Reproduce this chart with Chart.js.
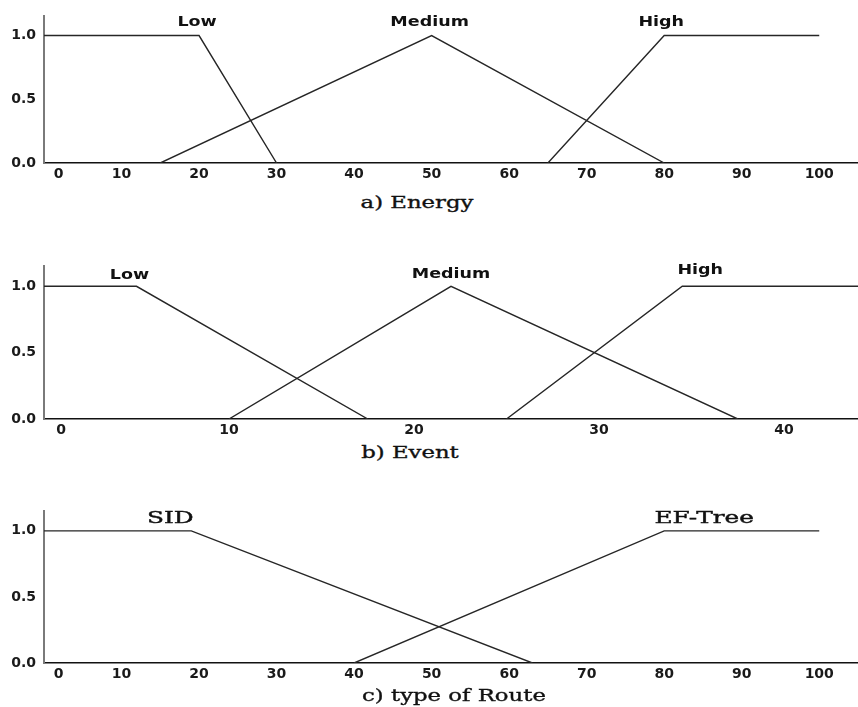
<!DOCTYPE html>
<html>
<head>
<meta charset="utf-8">
<title>Fuzzy membership functions</title>
<script src="https://cdn.jsdelivr.net/npm/chart.js@4/dist/chart.umd.min.js"></script>
<style>
  html, body { margin: 0; padding: 0; background: #fff; }
  body { position: relative; width: 858px; height: 707px; overflow: hidden; }
  canvas { position: absolute; left: 0; }
  .caption {
    position: absolute;
    font-family: "DejaVu Serif", serif;
    font-size: 17px;
    color: #111;
    -webkit-text-stroke: 0.35px #111;
    white-space: nowrap;
    line-height: 1;
    transform: translate(-50%, -50%) scaleX(1.34);
  }
</style>
</head>
<body>
<canvas id="energy" width="858" height="185" style="top:0px"></canvas>
<canvas id="event" width="858" height="191" style="top:250px"></canvas>
<canvas id="route" width="858" height="195" style="top:490px"></canvas>
<div class="caption" style="left:417px; top:202px">a) Energy</div>
<div class="caption" style="left:410px; top:452px">b) Event</div>
<div class="caption" style="left:454px; top:695px">c) type of Route</div>

<script>
// ---- membership functions: [input value, membership degree] ----
const energyTerms = ['Low', 'Medium', 'High'];
const energyLow = [[0, 1], [20, 1], [30, 0]];
const energyMedium = [[15, 0], [50, 1], [80, 0]];
const energyHigh = [[65, 0], [80, 1], [100, 1]];
const energyTicks = [0, 10, 20, 30, 40, 50, 60, 70, 80, 90, 100];

const eventTerms = ['Low', 'Medium', 'High'];
const eventLow = [[0, 1], [5, 1], [17.5, 0]];
const eventMedium = [[10, 0], [22, 1], [37.5, 0]];
const eventHigh = [[25, 0], [34.5, 1], [44, 1]];
const eventTicks = [0, 10, 20, 30, 40];

const routeTerms = ['SID', 'EF-Tree'];
const routeSID = [[0, 1], [19, 1], [63, 0]];
const routeEFTree = [[40, 0], [80, 1], [100, 1]];
const routeTicks = [0, 10, 20, 30, 40, 50, 60, 70, 80, 90, 100];

const degreeTicks = [0, 0.5, 1];

// ---- shared styling ----
const LINE_COLOR = '#262626';
const TICK_FONT = { family: 'DejaVu Sans', weight: 'bold', size: 14 };
const SANS_TERM_FONT = 'bold 14px "DejaVu Sans"';
const SERIF_TERM_FONT = '16px "DejaVu Serif"';

function series(points) {
  return {
    data: points.map(([x, y]) => ({ x, y })),
    borderColor: LINE_COLOR,
    borderWidth: 1.4,
    pointRadius: 0,
    fill: false,
    tension: 0
  };
}

// draws the linguistic term names above their membership curves
function termLabels(items, font, stretch, outline) {
  return {
    id: 'termLabels',
    afterDatasetsDraw(chart) {
      const { ctx, scales: { x, y } } = chart;
      ctx.save();
      ctx.fillStyle = '#111';
      ctx.strokeStyle = '#111';
      ctx.lineWidth = outline;
      ctx.font = font;
      ctx.textAlign = 'center';
      ctx.textBaseline = 'alphabetic';
      items.forEach(it => {
        const px = x.getPixelForValue(it.at[0]) + it.dx;
        const py = y.getPixelForValue(it.at[1]) + it.dy;
        ctx.save();
        ctx.translate(px, py);
        ctx.scale(stretch, 1);
        ctx.fillText(it.text, 0, 0);
        if (outline > 0) ctx.strokeText(it.text, 0, 0);
        ctx.restore();
      });
      ctx.restore();
    }
  };
}

function makeChart(id, datasets, ticks, xMax, padTop, zeroPad, labelPlugin) {
  return new Chart(document.getElementById(id), {
    type: 'line',
    data: { datasets },
    plugins: [labelPlugin],
    options: {
      responsive: false,
      animation: false,
      events: [],
      layout: { padding: { top: padTop, left: 0, right: 0, bottom: 0 } },
      plugins: { legend: { display: false }, tooltip: { enabled: false } },
      scales: {
        x: {
          type: 'linear',
          min: 0,
          max: xMax,
          grid: { display: false, drawTicks: false },
          border: { display: true, color: '#111', width: 1.5 },
          afterBuildTicks: s => { s.ticks = ticks.map(v => ({ value: v })); },
          afterFit: s => { s.height = 22; },
          ticks: {
            font: TICK_FONT,
            color: '#1a1a1a',
            padding: 3,
            autoSkip: false,
            maxRotation: 0,
            // the zero label sits just right of the vertical axis
            callback: v => (v === 0 ? ' '.repeat(zeroPad) + '0' : String(v))
          }
        },
        y: {
          min: 0,
          max: 1.15,
          grid: { display: false, drawTicks: false },
          border: { display: true, color: '#7a7a7a', width: 2 },
          afterBuildTicks: s => { s.ticks = degreeTicks.map(v => ({ value: v })); },
          afterFit: s => { s.width = 44; },
          ticks: {
            font: TICK_FONT,
            color: '#1a1a1a',
            padding: 8,
            callback: v => Number(v).toFixed(1)
          }
        }
      }
    }
  });
}

// a) Energy
makeChart('energy',
  [series(energyLow), series(energyMedium), series(energyHigh)],
  energyTicks, 105, 11, 6,
  termLabels([
    { text: energyTerms[0], at: energyLow[1], dx: -2, dy: -10 },
    { text: energyTerms[1], at: energyMedium[1], dx: -2, dy: -10 },
    { text: energyTerms[2], at: energyHigh[1], dx: -3, dy: -10 }
  ], SANS_TERM_FONT, 1.25, 0));

// b) Event
makeChart('event',
  [series(eventLow), series(eventMedium), series(eventHigh)],
  eventTicks, 44, 16, 7,
  termLabels([
    { text: eventTerms[0], at: eventLow[1], dx: -7, dy: -7 },
    { text: eventTerms[1], at: eventMedium[1], dx: 0, dy: -8 },
    { text: eventTerms[2], at: eventHigh[1], dx: 18, dy: -12 }
  ], SANS_TERM_FONT, 1.25, 0));

// c) type of Route
makeChart('route',
  [series(routeSID), series(routeEFTree)],
  routeTicks, 105, 21, 6,
  termLabels([
    { text: routeTerms[0], at: routeSID[1], dx: -21, dy: -8 },
    { text: routeTerms[1], at: routeEFTree[1], dx: 40, dy: -8 }
  ], SERIF_TERM_FONT, 1.55, 0.4));
</script>
</body>
</html>
